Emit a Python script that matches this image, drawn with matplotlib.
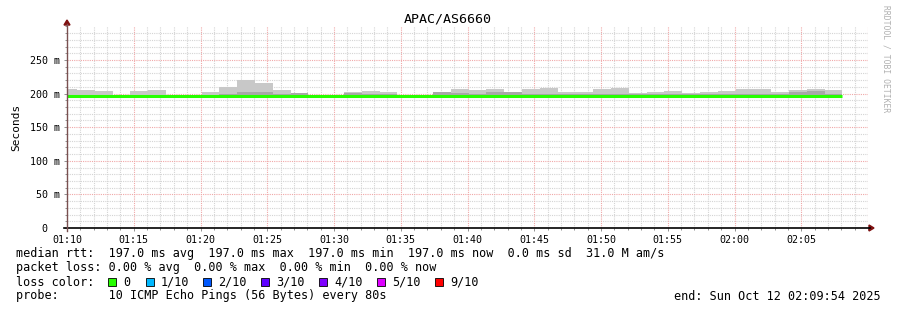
import numpy as np
import matplotlib
matplotlib.use("Agg")
import matplotlib.pyplot as plt
from matplotlib.lines import Line2D
from matplotlib.patches import Rectangle, Polygon

# ---- data ----
title = "APAC/AS6660"
x_tick_labels = ["01:10", "01:15", "01:20", "01:25", "01:30", "01:35", "01:40",
                 "01:45", "01:50", "01:55", "02:00", "02:05"]
y_tick_values = [0, 50, 100, 150, 200, 250]
y_tick_labels = ["0  ", "50 m", "100 m", "150 m", "200 m", "250 m"]
# step start times, minutes after 01:10 (80 s probe interval)
step_start = [-7 / 12 + k * 4 / 3 for k in range(44)]
step_end_time = 58.08
# smoke top (max rtt) per step, ms
smoke_max = [207, 205, 204, 197, 204, 205, 197, 197, 202, 210, 220, 216, 205, 201,
             197, 197, 202, 204, 202, 197, 197, 202, 207, 205, 207, 202, 207, 208,
             202, 202, 207, 208, 201, 202, 204, 201, 202, 204, 207, 207, 202, 205,
             207, 205]
# darker smoke band top per step, ms
smoke_dark = [198, 198, 198, 197, 198, 198, 197, 197, 198, 199, 202, 202, 199, 201,
              197, 197, 201, 200, 199, 197, 197, 202, 201, 199, 202, 202, 199, 199,
              199, 199, 199, 199, 199, 199, 199, 199, 199, 199, 199, 199, 199, 203,
              204, 199]
smoke_min = [196] * 44
median_rtt = [197.0] * 44

loss_labels = ["0", "1/10", "2/10", "3/10", "4/10", "5/10", "9/10"]
loss_colors = ["#26ff00", "#00b8ff", "#0059ff", "#5e00ff", "#7e00ff", "#dd00ff", "#ff0000"]

W, H = 897, 310
fig = plt.figure(figsize=(W / 100, H / 100), dpi=100)
fig.patch.set_facecolor("white")

x0, x1 = 67, 868
ytop, ybot = 26.4, 228
ax = fig.add_axes([x0 / W, 1 - ybot / H, (x1 - x0) / W, (ybot - ytop) / H])
ax.set_xlim(0, 60)
ax.set_ylim(0, 300)
ax.set_facecolor("white")

mono = "DejaVu Sans Mono"

# grid
for m in range(0, 61):
    if m % 5 == 0:
        continue
    ax.axvline(m, color="#d4d4d4", lw=0.8, ls=(0, (1, 1)), zorder=0)
for v in range(0, 300, 10):
    if v % 50 == 0:
        continue
    ax.axhline(v, color="#d4d4d4", lw=0.8, ls=(0, (1, 1)), zorder=0)
for m in range(5, 61, 5):
    ax.axvline(m, color="#f0a8a8", lw=0.8, ls=(0, (1, 1)), zorder=0.5)
for v in range(50, 300, 50):
    ax.axhline(v, color="#f0a8a8", lw=0.8, ls=(0, (1, 1)), zorder=0.5)

# smoke
edges = list(step_start) + [step_end_time]
xs = np.array(edges)
def stepvals(a):
    return np.array(list(a) + [a[-1]])
ax.fill_between(xs, stepvals(smoke_min), stepvals(smoke_max), step="post",
                color="#c8c8c8", lw=0, zorder=1)
ax.fill_between(xs, stepvals(smoke_min), stepvals(smoke_dark), step="post",
                color="#a8a8a8", lw=0, zorder=1.5)
# median line
ax.step(xs, stepvals(median_rtt), where="post", color="#26ff00", lw=2.2, zorder=3,
        solid_capstyle="butt")

# ticks
ax.set_xticks(range(0, 60, 5))
ax.set_xticklabels(x_tick_labels, fontfamily=mono, fontsize=7.2)
ax.set_xticks(range(0, 61), minor=True)
ax.set_yticks(y_tick_values)
ax.set_yticklabels(y_tick_labels, fontfamily=mono, fontsize=7.2)
ax.set_yticks(range(0, 301, 10), minor=True)
ax.tick_params(which="both", length=2, width=0.6, color="#808080", pad=3)
ax.tick_params(which="minor", length=1.5)
for s in ax.spines.values():
    s.set_visible(False)

ax.set_ylabel("Seconds", fontfamily=mono, fontsize=8, labelpad=6)

# axis lines and arrows (figure coords)
def fx(px): return px / W
def fy(py): return 1 - py / H
fig.add_artist(Line2D([fx(64), fx(870)], [fy(228), fy(228)], color="black", lw=1.2))
fig.add_artist(Line2D([fx(67), fx(67)], [fy(231), fy(24)], color="#7a5050", lw=1.0))
fig.add_artist(Polygon([[fx(869), fy(225)], [fx(869), fy(231)], [fx(874), fy(228)]],
                       closed=True, color="#7f1010", transform=fig.transFigure))
fig.add_artist(Polygon([[fx(64), fy(25)], [fx(70), fy(25)], [fx(67), fy(20)]],
                       closed=True, color="#7f1010", transform=fig.transFigure))

# title
fig.text(fx(448), fy(19), title, ha="center", va="center", fontfamily=mono, fontsize=9.6)

# watermark
fig.text(fx(886), fy(5), "RRDTOOL / TOBI OETIKER", rotation=270, ha="center", va="top",
         fontfamily=mono, fontsize=5.8, color="#b0b0b0")

# legend text
fs = 8.45
fig.text(fx(16), fy(254),
         "median rtt:  197.0 ms avg  197.0 ms max  197.0 ms min  197.0 ms now  0.0 ms sd  31.0 M am/s",
         ha="left", va="center", fontfamily=mono, fontsize=fs)
fig.text(fx(16), fy(268),
         "packet loss: 0.00 % avg  0.00 % max  0.00 % min  0.00 % now",
         ha="left", va="center", fontfamily=mono, fontsize=fs)
fig.text(fx(16), fy(282), "loss color:", ha="left", va="center", fontfamily=mono, fontsize=fs)
sq_x = [108, 146, 203, 261, 319, 377, 435]
for sx, lab, col in zip(sq_x, loss_labels, loss_colors):
    fig.add_artist(Rectangle((fx(sx), fy(286)), 8 / W, 8 / H, transform=fig.transFigure,
                             facecolor=col, edgecolor="black", lw=0.6))
    fig.text(fx(sx + 15), fy(282), lab, ha="left", va="center", fontfamily=mono, fontsize=fs)
fig.text(fx(16), fy(296), "probe:       10 ICMP Echo Pings (56 Bytes) every 80s",
         ha="left", va="center", fontfamily=mono, fontsize=fs)
fig.text(fx(881), fy(296), "end: Sun Oct 12 02:09:54 2025", ha="right", va="center",
         fontfamily=mono, fontsize=fs)

fig.savefig("out.png", dpi=100)
